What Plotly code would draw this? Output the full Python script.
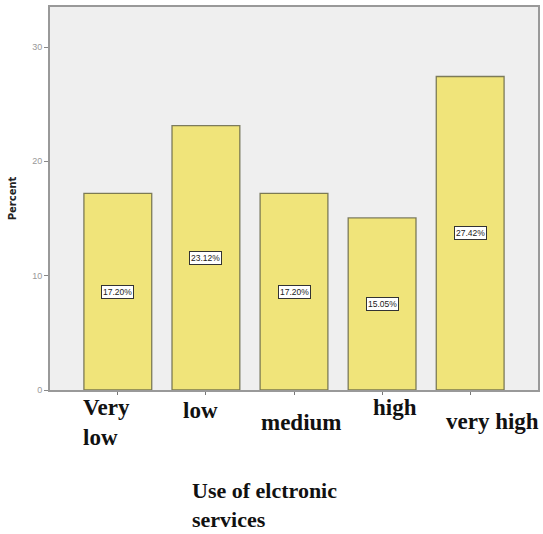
import plotly.graph_objects as go

# Survey results: usage level of electronic services (percent of respondents)
categories = ["Very low", "low", "medium", "high", "very high"]
percent = [17.20, 23.12, 17.20, 15.05, 27.42]
# category labels as printed under the axis (some wrap onto two lines)
tick_text = ["Very<br>low", "low", "medium", "high", "very high"]
y_ticks = [0, 10, 20, 30]

W, H = 543, 534
ML, MR, MT, MB = 50, 3, 7, 144
PW, PH = W - ML - MR, H - MT - MB


def px_x(x):
    return (x - ML) / PW


def px_y(y):
    return (H - MB - y) / PH


fig = go.Figure()
fig.add_trace(go.Bar(
    x=categories,
    y=percent,
    marker=dict(color="#F0E47A", line=dict(color="rgba(95,95,65,0.8)", width=1.3)),
    hoverinfo="skip",
))

annotations = []
# value boxes in the middle of each bar
for c, v in zip(categories, percent):
    annotations.append(dict(
        x=c, y=v / 2, xref="x", yref="y",
        text=f"{v:.2f}%", showarrow=False,
        font=dict(family="Liberation Sans", size=8.5, color="#222"),
        bgcolor="white", bordercolor="#333", borderwidth=1, borderpad=1,
    ))

# hand-placed category labels (left x in px, cap-top y in px)
label_pos = [(82, 400), (183, 403), (261, 415), (373, 400), (447, 414)]
serif = dict(family="Liberation Serif", size=23, color="#111")
for t, (lx, ly) in zip(tick_text, label_pos):
    annotations.append(dict(
        x=px_x(lx), y=px_y(ly - 6), xref="paper", yref="paper",
        xanchor="left", yanchor="top", align="left",
        text=f"<b>{t}</b>", showarrow=False, font=serif, borderpad=0,
    ))

# x-axis title
annotations.append(dict(
    x=px_x(192), y=px_y(483 - 6), xref="paper", yref="paper",
    xanchor="left", yanchor="top", align="left",
    text="<b>Use of elctronic<br>services</b>", showarrow=False,
    font=dict(family="Liberation Serif", size=22, color="#111"), borderpad=0,
))

fig.update_layout(
    width=W, height=H,
    margin=dict(l=ML, r=MR, t=MT, b=MB),
    paper_bgcolor="white",
    plot_bgcolor="#EFEFEF",
    bargap=0.23,
    showlegend=False,
    annotations=annotations,
    xaxis=dict(
        range=[-0.77, 4.77],
        showticklabels=False,
        ticks="outside", ticklen=3, tickcolor="#777",
        showline=True, linecolor="#999", linewidth=1.5, mirror=True,
        showgrid=False, zeroline=False,
    ),
    yaxis=dict(
        range=[0, 33.5],
        tickvals=y_ticks,
        ticks="outside", ticklen=4, tickcolor="#888",
        tickfont=dict(family="Liberation Sans", size=9, color="#999"),
        showline=True, linecolor="#999", linewidth=2, mirror=True,
        showgrid=False, zeroline=False,
        title=dict(text="<b>Percent</b>", standoff=14,
                   font=dict(family="DejaVu Sans", size=10, color="#222")),
    ),
)

fig.write_html("out.html")
